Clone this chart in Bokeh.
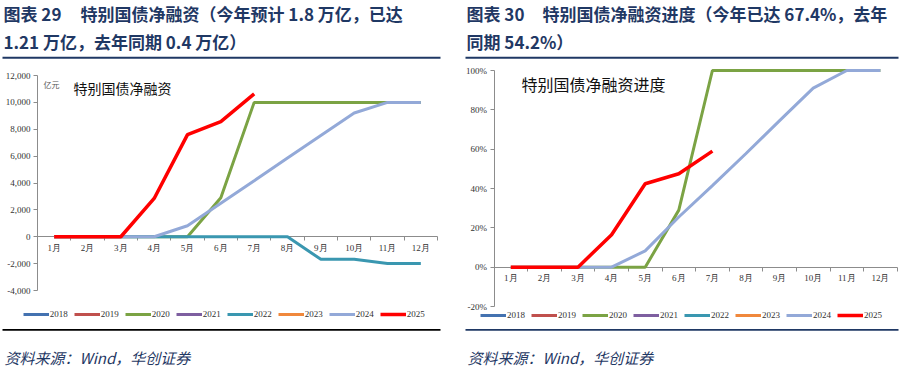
from bokeh.plotting import figure
from bokeh.layouts import row
from bokeh.models import (Range1d, NumeralTickFormatter, FixedTicker, Label, Legend,
                          LegendItem, BoxAnnotation)
from bokeh.embed import file_html
from bokeh.resources import INLINE

nan = float("nan")

months = ["1月", "2月", "3月", "4月", "5月", "6月", "7月", "8月", "9月", "10月", "11月", "12月"]
years = ["2018", "2019", "2020", "2021", "2022", "2023", "2024", "2025"]

# Chart 29: special treasury net financing (100 million yuan)
# series 2018, 2019, 2021, 2023 only appear in the legend (no visible data)
no_data = [nan] * 12
net_2020 = [0, 0, 0, 0, 0, 2900, 10000, 10000, 10000, 10000, 10000, 10000]
net_2022 = [0, 0, 0, 0, 0, 0, 0, 0, -1680, -1680, -1990, -1990]
net_2024 = [0, 0, 0, 0, 820, 2500, 4170, 5860, 7530, 9210, 10000, 10000]
net_2025 = [0, 0, 0, 2850, 7600, 8570, 10630, nan, nan, nan, nan, nan]

# Chart 30: progress (share of yearly quota)
pct_2020 = [0, 0, 0, 0, 0, 0.29, 1.0, 1.0, 1.0, 1.0, 1.0, 1.0]
pct_2024 = [0, 0, 0, 0, 0.083, 0.255, 0.415, 0.578, 0.745, 0.91, 1.0, 1.0]
pct_2025 = [0, 0, 0, 0.165, 0.424, 0.475, 0.59, nan, nan, nan, nan, nan]

net_ticks = [-4000, -2000, 0, 2000, 4000, 6000, 8000, 10000, 12000]
pct_ticks = [-0.2, 0, 0.2, 0.4, 0.6, 0.8, 1.0]

colors = {"2018": "#4472B0", "2019": "#C0504D", "2020": "#7BA344", "2021": "#7E5FA0",
          "2022": "#3A97B0", "2023": "#F0883C", "2024": "#93A9D8", "2025": "#FF0000"}

NAVY = "#1F3864"
CJK = "Noto Sans CJK SC"
SERIF = "Liberation Serif"
W, H = 453, 370


def build(series, ylims, ticks, fmt, geom, title_parts, inner_title, unit,
          legend_x, legend_cy, rule_x, rule_bottom_color):
    ax_l, ax_r, py_top, py_bot = geom
    ylo, yhi = ylims
    xu = 12.0 / (ax_r - ax_l)
    yu = (yhi - ylo) / (py_bot - py_top)
    x_start = 0.5 - ax_l * xu
    x_end = 12.5 + (W - ax_r) * xu
    y_top = yhi + py_top * yu
    y_bot = ylo - (H - py_bot) * yu

    def X(px):
        return x_start + px * xu

    def Y(py):
        return y_top - py * yu

    p = figure(width=W, height=H, output_backend="svg", toolbar_location=None,
               x_range=Range1d(x_start, x_end), y_range=Range1d(y_bot, y_top),
               min_border=0, min_border_left=0, min_border_right=0,
               min_border_top=0, min_border_bottom=0)
    p.outline_line_color = None
    p.xgrid.visible = False
    p.ygrid.visible = False
    p.background_fill_color = "white"
    p.border_fill_color = "white"

    ay = p.yaxis[0]
    ay.fixed_location = 0.5
    ay.bounds = (ylo, yhi)
    ay.ticker = FixedTicker(ticks=ticks)
    ay.formatter = NumeralTickFormatter(format=fmt)
    ay.major_label_text_font = SERIF
    ay.major_label_text_font_size = "9px"
    ay.major_label_text_color = "#333333"
    ay.major_tick_in = 0
    ay.major_tick_out = 4
    ay.minor_tick_line_color = None
    ay.axis_line_color = "#8c8c8c"
    ay.major_tick_line_color = "#8c8c8c"
    ay.major_label_standoff = 3

    axx = p.xaxis[0]
    axx.fixed_location = 0
    axx.bounds = (0.5, 12.5)
    axx.ticker = FixedTicker(ticks=list(range(1, 13)),
                             minor_ticks=[i + 1.5 for i in range(12)])
    axx.major_label_overrides = {i + 1: m for i, m in enumerate(months)}
    axx.major_tick_line_color = None
    axx.major_tick_in = 0
    axx.major_tick_out = 0
    axx.minor_tick_in = 0
    axx.minor_tick_out = 4
    axx.minor_tick_line_color = "#8c8c8c"
    axx.axis_line_color = "#8c8c8c"
    axx.major_label_standoff = 2
    axx.major_label_text_font = SERIF
    axx.major_label_text_font_size = "9px"
    axx.major_label_text_color = "#333333"
    axx.level = "underlay"

    xs = list(range(1, 13))
    items = []
    for yname in years:
        vals = series.get(yname, no_data)
        lw = 3.5 if yname == "2025" else 3
        r = p.line(x=xs, y=vals, line_color=colors[yname], line_width=lw)
        items.append(LegendItem(label=yname, renderers=[r]))
    leg = Legend(items=items, orientation="horizontal",
                 location=(legend_x, H - legend_cy - 5),
                 padding=0, margin=0, spacing=5, glyph_width=26, glyph_height=10,
                 label_standoff=1, label_width=19, label_height=10,
                 label_text_font=SERIF, label_text_font_size="9px",
                 label_text_color="#333333",
                 border_line_alpha=0, background_fill_alpha=0)
    p.add_layout(leg)

    for (tx, ty, t) in title_parts:
        p.add_layout(Label(x=X(tx), y=Y(ty), text=t, text_font=CJK,
                           text_font_size="17px", text_font_style="bold",
                           text_color=NAVY, text_baseline="middle"))
    it_text, it_x, it_y, it_size = inner_title
    p.add_layout(Label(x=X(it_x), y=Y(it_y), text=it_text, text_font=CJK,
                       text_font_size=it_size, text_color="#111111",
                       text_baseline="middle"))
    if unit:
        u_text, u_x, u_y = unit
        p.add_layout(Label(x=X(u_x), y=Y(u_y), text=u_text, text_font=CJK,
                           text_font_size="8px", text_color="#555555",
                           text_baseline="middle"))
    rx0, rx1 = rule_x
    p.add_layout(BoxAnnotation(left=X(rx0), right=X(rx1), top=Y(56.3), bottom=Y(58.3),
                               fill_color=NAVY, fill_alpha=1, line_alpha=0))
    p.add_layout(BoxAnnotation(left=X(rx0), right=X(rx1), top=Y(328.5), bottom=Y(330.3),
                               fill_color=rule_bottom_color, fill_alpha=1, line_alpha=0))
    p.add_layout(Label(x=X(rx0 + 2), y=Y(357), text="资料来源：Wind，华创证券",
                       text_font=CJK, text_font_size="15px", text_font_style="italic",
                       text_color=NAVY, text_baseline="middle"))
    return p


p1 = build({"2020": net_2020, "2022": net_2022, "2024": net_2024, "2025": net_2025},
           (-4000, 12000), net_ticks, "0,0", (37, 437, 75, 290),
           [(3, 12.5, "图表 29"), (80, 12.5, "特别国债净融资（今年预计 1.8 万亿，已达"),
            (3, 40.5, "1.21 万亿，去年同期 0.4 万亿）")],
           ("特别国债净融资", 73, 87, "14px"), ("亿元", 43, 84),
           22.7, 314, (2, 440), "#000000")

p2 = build({"2020": pct_2020, "2024": pct_2024, "2025": pct_2025},
           (-0.2, 1.0), pct_ticks, "0%", (40.5, 443.7, 70, 306),
           [(13, 12.5, "图表 30"), (89, 12.5, "特别国债净融资进度（今年已达 67.4%，去年"),
            (13, 40.5, "同期 54.2%）")],
           ("特别国债净融资进度", 68, 83, "16px"), None,
           27, 315, (12, 445), NAVY)

layout = row(p1, p2)
open("out.html", "w").write(file_html(layout, INLINE))
